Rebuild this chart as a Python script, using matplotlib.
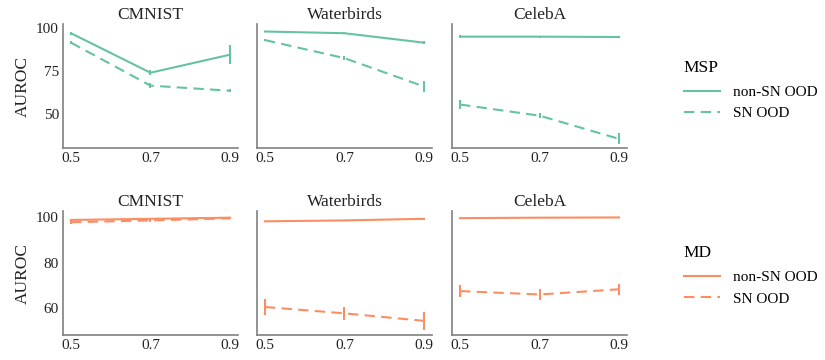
import matplotlib
matplotlib.use("Agg")
import matplotlib.pyplot as plt
from matplotlib.lines import Line2D

# ── Data ──────────────────────────────────────────────────────────────────────

ratios   = [0.5, 0.7, 0.9]
datasets = ["CMNIST", "Waterbirds", "CelebA"]

# MSP (top row)
msp_nonsn     = [[97.0, 74.0, 84.5], [98.0, 97.0, 91.5], [95.0, 95.0, 94.8]]
msp_nonsn_err = [[0.8, 1.5, 5.5], [0.5, 0.5, 1.0], [0.8, 0.5, 0.8]]
msp_sn        = [[91.5, 66.5, 63.5], [93.0, 82.5, 66.0], [55.5, 49.0, 35.5]]
msp_sn_err    = [[0.8, 1.5, 1.0], [0.5, 1.0, 3.0], [2.7, 1.5, 3.2]]

# MD (bottom row)
md_nonsn     = [[98.8, 99.3, 99.8], [98.2, 98.6, 99.3], [99.6, 99.8, 99.9]]
md_nonsn_err = [[0.6, 0.4, 0.3], [0.3, 0.3, 0.3], [0.2, 0.2, 0.2]]
md_sn        = [[97.8, 98.6, 99.5], [60.5, 57.7, 54.4], [67.5, 66.0, 68.3]]
md_sn_err    = [[0.8, 0.8, 0.3], [3.5, 2.9, 4.0], [2.5, 2.5, 2.5]]

# ── Style ─────────────────────────────────────────────────────────────────────

GREEN  = "#66c2a5"
ORANGE = "#fc8d62"
SPINE  = "#808080"
DASH   = (0, (5, 3))

plt.rcParams.update({
    "font.family": ["Liberation Serif", "DejaVu Serif"],
    "font.size": 11,
    "axes.spines.top": False,
    "axes.spines.right": False,
})

fig = plt.figure(figsize=(8.25, 3.6), dpi=100)

lefts   = [0.0764, 0.3115, 0.548]
width   = 0.212
bottoms = [0.589, 0.069]
height  = 0.344

rows = [
    (msp_nonsn, msp_nonsn_err, msp_sn, msp_sn_err, GREEN, (30.2, 102.3), [50, 75, 100]),
    (md_nonsn, md_nonsn_err, md_sn, md_sn_err, ORANGE, (48.1, 102.6), [60, 80, 100]),
]

for r, (ns, ns_e, sn, sn_e, col, ylim, yticks) in enumerate(rows):
    for c, name in enumerate(datasets):
        ax = fig.add_axes([lefts[c], bottoms[r], width, height])
        ax.errorbar(ratios, ns[c], yerr=ns_e[c], color=col, lw=1.5,
                    elinewidth=1.5, capsize=0)
        ax.errorbar(ratios, sn[c], yerr=sn_e[c], color=col, lw=1.5,
                    elinewidth=1.5, capsize=0, linestyle=DASH)
        ax.set_xlim(0.48, 0.92)
        ax.set_ylim(*ylim)
        ax.set_xticks(ratios)
        ax.set_xticklabels(["0.5", "0.7", "0.9"])
        ax.set_yticks(yticks)
        ax.tick_params(length=0, labelsize=11, pad=3, colors="#222222")
        for sp in ("left", "bottom"):
            ax.spines[sp].set_color(SPINE)
            ax.spines[sp].set_linewidth(1.2)
        ax.set_title(name, fontsize=12.5, pad=4, color="#222222")
        if c == 0:
            ax.set_ylabel("AUROC", fontsize=12.5, color="#222222")
        else:
            ax.set_yticklabels([])

# ── Legends ───────────────────────────────────────────────────────────────────

for title, col, y in [("MSP", GREEN, 0.75), ("MD", ORANGE, 0.235)]:
    handles = [Line2D([], [], color=col, lw=1.5),
               Line2D([], [], color=col, lw=1.5, linestyle=DASH)]
    leg = fig.legend(handles, ["non-SN OOD", "SN OOD"], title=title,
                     loc="center left", bbox_to_anchor=(0.812, y),
                     frameon=False, fontsize=11, title_fontsize=12.5,
                     handlelength=2.4, alignment="left", labelspacing=0.5)
    leg._legend_box.sep = 7

fig.savefig("out.png", dpi=100)
